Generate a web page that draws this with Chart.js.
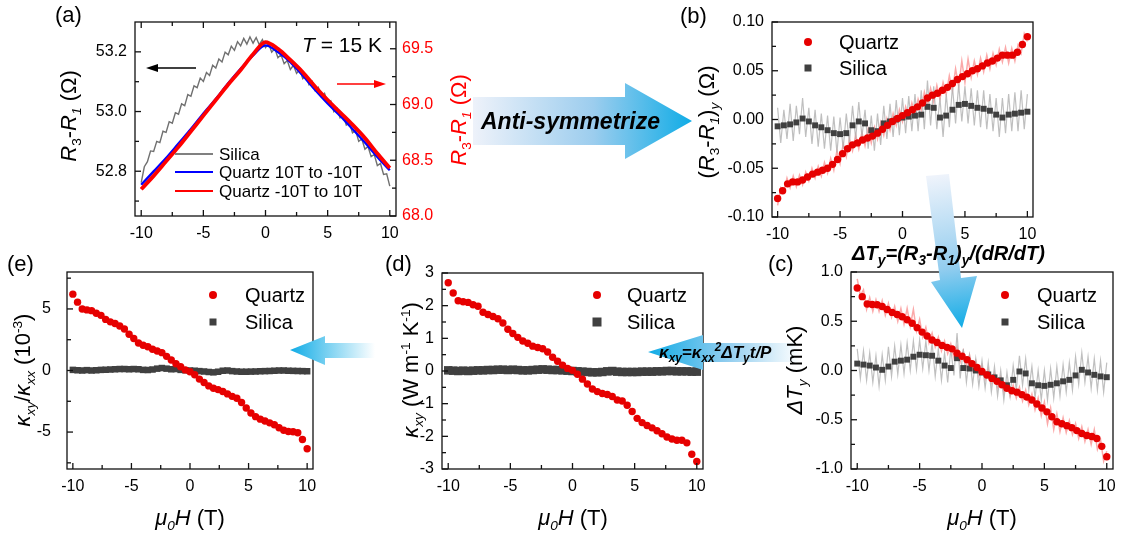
<!DOCTYPE html>
<html>
<head>
<meta charset="utf-8">
<script src="https://cdn.jsdelivr.net/npm/chart.js@4.4.1/dist/chart.umd.min.js"></script>
<style>
  body { margin: 0; background: #fff; }
  #fig { position: relative; width: 1122px; height: 536px; overflow: hidden;
         font-family: "Liberation Sans", Arial, sans-serif; color: #000; }
  #fig canvas { position: absolute; }
  .t { position: absolute; white-space: nowrap; line-height: 1; }
  .yt { transform: translate(-50%, -50%) rotate(-90deg); font-size: 22px; }
  .xt { transform: translate(-50%, -50%); font-size: 22px; }
  .lab { font-size: 22px; transform: translateY(-50%); }
  .lg { font-size: 20px; transform: translateY(-50%); }
  .note { font-weight: bold; font-style: italic; transform: translateY(-50%); }
  .note sub, .note sup { font-size: 0.7em; }
  sub, sup { font-size: 0.62em; line-height: 0; }
  .mk { position: absolute; transform: translate(-50%, -50%); }
  .dot { width: 8px; height: 8px; border-radius: 50%; background: #e60000; }
  .sq { width: 7px; height: 7px; background: #404040; }
  .ln { position: absolute; height: 0; transform: translateY(-50%); }
  svg { position: absolute; left: 0; top: 0; }
</style>
</head>
<body>
<div id="fig">
  <canvas id="pa"></canvas>
  <canvas id="pb"></canvas>
  <canvas id="pc"></canvas>
  <canvas id="pd"></canvas>
  <canvas id="pe"></canvas>

  <svg width="1122" height="536">
    <defs>
      <linearGradient id="g1" gradientUnits="userSpaceOnUse" x1="473" y1="0" x2="692" y2="0">
        <stop offset="0" stop-color="#eef2fa"/><stop offset="0.55" stop-color="#9ccdee"/><stop offset="1" stop-color="#10ace6"/>
      </linearGradient>
      <linearGradient id="g2" gradientUnits="userSpaceOnUse" x1="937" y1="176" x2="962" y2="328">
        <stop offset="0" stop-color="#eef3fb"/><stop offset="0.6" stop-color="#93cdef"/><stop offset="1" stop-color="#10ace6"/>
      </linearGradient>
      <linearGradient id="g3" gradientUnits="userSpaceOnUse" x1="648" y1="0" x2="800" y2="0">
        <stop offset="0" stop-color="#10ace6"/><stop offset="0.5" stop-color="#8ccbee"/><stop offset="1" stop-color="#ffffff"/>
      </linearGradient>
      <linearGradient id="g4" gradientUnits="userSpaceOnUse" x1="290" y1="0" x2="375" y2="0">
        <stop offset="0" stop-color="#10ace6"/><stop offset="1" stop-color="#ffffff"/>
      </linearGradient>
    </defs>
    <polygon points="473,97 625,97 625,83 692,121 625,159 625,145 473,145" fill="url(#g1)"/>
    <polygon points="926,176 949,174 961,278 977,276 962,328 931,282 940,280" fill="url(#g2)"/>
    <polygon points="648,352 703,335 703,343 800,343 800,362 703,362 703,370" fill="url(#g3)"/>
    <polygon points="290,350 325,336 325,343 375,343 375,358 325,358 325,365" fill="url(#g4)"/>
    <line x1="196" y1="68" x2="155" y2="68" stroke="#000" stroke-width="1.3"/>
    <polygon points="146,68 158,64 158,72" fill="#000"/>
    <line x1="337" y1="84" x2="376" y2="84" stroke="#f00" stroke-width="1.3"/>
    <polygon points="386,84 374,80 374,88" fill="#f00"/>
  </svg>

  <!-- panel labels -->
  <div class="t lab" style="left:55px;top:15px">(a)</div>
  <div class="t lab" style="left:680px;top:16px">(b)</div>
  <div class="t lab" style="left:768px;top:264px">(c)</div>
  <div class="t lab" style="left:385px;top:264px">(d)</div>
  <div class="t lab" style="left:7px;top:264px">(e)</div>

  <!-- axis titles -->
  <div class="t yt" style="left:69px;top:116px"><i>R</i><sub>3</sub>-<i>R</i><sub><i>1</i></sub> (Ω)</div>
  <div class="t yt" style="left:459px;top:120px;color:#f00"><i>R</i><sub>3</sub>-<i>R</i><sub><i>1</i></sub> (Ω)</div>
  <div class="t yt" style="left:707px;top:122px">(<i>R</i><sub>3</sub>-<i>R</i><sub><i>1</i></sub>)<sub><i>y</i></sub> (Ω)</div>
  <div class="t yt" style="left:795px;top:370px"><i>ΔT<sub>y</sub></i> (mK)</div>
  <div class="t yt" style="left:411px;top:370px"><i>κ<sub>xy</sub></i> (W m<sup>-1</sup> K<sup>-1</sup>)</div>
  <div class="t yt" style="left:23px;top:370px"><i>κ<sub>xy</sub></i>/<i>κ<sub>xx</sub></i> (10<sup>-3</sup>)</div>
  <div class="t xt" style="left:190px;top:518px"><i>μ<sub>0</sub>H</i> (T)</div>
  <div class="t xt" style="left:573px;top:518px"><i>μ<sub>0</sub>H</i> (T)</div>
  <div class="t xt" style="left:982px;top:518px"><i>μ<sub>0</sub>H</i> (T)</div>

  <div class="t" style="left:302px;top:34px;font-size:21px"><i>T</i> = 15 K</div>

  <!-- legend (a) -->
  <div class="ln" style="left:175px;top:154px;width:38px;border-top:2px solid #808080"></div>
  <div class="ln" style="left:175px;top:172px;width:38px;border-top:2px solid #0000ff"></div>
  <div class="ln" style="left:175px;top:191px;width:38px;border-top:2px solid #ff0000"></div>
  <div class="t lg" style="left:219px;top:154px;font-size:17px">Silica</div>
  <div class="t lg" style="left:219px;top:172px;font-size:17px">Quartz 10T to -10T</div>
  <div class="t lg" style="left:219px;top:191px;font-size:17px">Quartz -10T to 10T</div>

  <!-- legend (b) -->
  <div class="mk dot" style="left:808px;top:42px"></div>
  <div class="mk sq" style="left:808px;top:68px"></div>
  <div class="t lg" style="left:839px;top:42px">Quartz</div>
  <div class="t lg" style="left:839px;top:68px">Silica</div>
  <!-- legend (c) -->
  <div class="mk dot" style="left:1005px;top:295px"></div>
  <div class="mk sq" style="left:1005px;top:322px"></div>
  <div class="t lg" style="left:1037px;top:295px">Quartz</div>
  <div class="t lg" style="left:1037px;top:322px">Silica</div>
  <!-- legend (d) -->
  <div class="mk dot" style="left:597px;top:295px"></div>
  <div class="mk sq" style="left:597px;top:322px;width:9px;height:9px"></div>
  <div class="t lg" style="left:627px;top:295px">Quartz</div>
  <div class="t lg" style="left:627px;top:322px">Silica</div>
  <!-- legend (e) -->
  <div class="mk dot" style="left:213px;top:295px"></div>
  <div class="mk sq" style="left:213px;top:322px"></div>
  <div class="t lg" style="left:245px;top:295px">Quartz</div>
  <div class="t lg" style="left:245px;top:322px">Silica</div>

  <!-- arrow notes -->
  <div class="t note" style="left:481px;top:121px;font-size:23px">Anti-symmetrize</div>
  <div class="t note" style="left:852px;top:253px;font-size:20px">ΔT<sub>y</sub>=(R<sub>3</sub>-R<sub>1</sub>)<sub>y</sub>/(dR/dT)</div>
  <div class="t note" style="left:659px;top:352px;font-size:17px">κ<sub>xy</sub>=κ<sub>xx</sub><sup>2</sup>ΔT<sub>y</sub>t/P</div>
</div>

<script>
// field grids (T)
const H81 = [-10,-9.75,-9.5,-9.25,-9,-8.75,-8.5,-8.25,-8,-7.75,-7.5,-7.25,-7,-6.75,-6.5,-6.25,-6,-5.75,-5.5,-5.25,
  -5,-4.75,-4.5,-4.25,-4,-3.75,-3.5,-3.25,-3,-2.75,-2.5,-2.25,-2,-1.75,-1.5,-1.25,-1,-0.75,-0.5,-0.25,
  0,0.25,0.5,0.75,1,1.25,1.5,1.75,2,2.25,2.5,2.75,3,3.25,3.5,3.75,4,4.25,4.5,4.75,
  5,5.25,5.5,5.75,6,6.25,6.5,6.75,7,7.25,7.5,7.75,8,8.25,8.5,8.75,9,9.25,9.5,9.75,10];
const H51 = [-10,-9.6,-9.2,-8.8,-8.4,-8,-7.6,-7.2,-6.8,-6.4,-6,-5.6,-5.2,-4.8,-4.4,-4,-3.6,-3.2,-2.8,-2.4,
  -2,-1.6,-1.2,-0.8,-0.4,0,0.4,0.8,1.2,1.6,2,2.4,2.8,3.2,3.6,4,4.4,4.8,5.2,5.6,
  6,6.4,6.8,7.2,7.6,8,8.4,8.8,9.2,9.6,10];
const H41 = [-10,-9.5,-9,-8.5,-8,-7.5,-7,-6.5,-6,-5.5,-5,-4.5,-4,-3.5,-3,-2.5,-2,-1.5,-1,-0.5,
  0,0.5,1,1.5,2,2.5,3,3.5,4,4.5,5,5.5,6,6.5,7,7.5,8,8.5,9,9.5,10];
const H21 = [-10,-9,-8,-7,-6,-5,-4,-3,-2,-1,0,1,2,3,4,5,6,7,8,9,10];

// (a) raw R3-R1
const aSilica = [52.762,52.815,52.832,52.868,52.866,52.900,52.896,52.934,52.930,52.966,
  52.961,52.996,52.991,53.026,53.020,53.057,53.051,53.086,53.080,53.112,
  53.101,53.131,53.121,53.155,53.146,53.176,53.166,53.199,53.190,53.219,
  53.205,53.234,53.220,53.245,53.226,53.250,53.229,53.248,53.224,53.241,
  53.214,53.228,53.199,53.211,53.180,53.190,53.160,53.171,53.141,53.155,
  53.128,53.141,53.110,53.121,53.090,53.101,53.070,53.081,53.050,53.061,
  53.030,53.036,53.000,53.011,52.979,52.988,52.955,52.963,52.929,52.937,
  52.900,52.908,52.874,52.883,52.849,52.856,52.819,52.826,52.789,52.791,
  52.750];
const aQuartzDown = [68.28,68.40,68.52,68.65,68.78,68.92,69.05,69.19,69.32,69.44,69.53,69.47,69.38,69.26,69.13,69.01,68.90,68.78,68.66,68.53,68.41];
const aQuartzUp = [68.24,68.36,68.49,68.62,68.76,68.90,69.04,69.18,69.31,69.45,69.56,69.50,69.40,69.29,69.16,69.04,68.93,68.82,68.70,68.56,68.43];

// (b) (R3-R1)y
const bQuartz = [-0.081,-0.073,-0.066,-0.064,-0.064,-0.062,-0.059,-0.056,-0.054,-0.052,
  -0.050,-0.046,-0.041,-0.035,-0.030,-0.026,-0.024,-0.021,-0.019,-0.017,
  -0.014,-0.010,-0.006,-0.002,0.001,0.004,0.007,0.010,0.013,0.017,
  0.022,0.025,0.027,0.030,0.033,0.037,0.041,0.044,0.047,0.050,
  0.052,0.055,0.058,0.060,0.063,0.066,0.066,0.066,0.069,0.077,
  0.085];
const bQuartzRaw = [-0.088,-0.070,-0.074,-0.060,-0.070,-0.058,-0.069,-0.057,-0.067,-0.054,
  -0.063,-0.050,-0.060,-0.048,-0.058,-0.044,-0.055,-0.040,-0.052,-0.032,
  -0.045,-0.025,-0.038,-0.020,-0.032,-0.016,-0.030,-0.013,-0.027,-0.010,
  -0.024,-0.008,-0.020,-0.003,-0.016,0.001,-0.011,0.006,-0.006,0.010,
  -0.002,0.013,0.002,0.017,0.005,0.021,0.010,0.028,0.015,0.032,
  0.018,0.035,0.021,0.038,0.026,0.045,0.030,0.052,0.034,0.060,
  0.038,0.062,0.043,0.060,0.046,0.063,0.049,0.066,0.052,0.068,
  0.056,0.072,0.059,0.074,0.058,0.073,0.060,0.076,0.068,0.088,
  0.080];
const bSilica = [-0.007,-0.006,-0.005,-0.003,0.001,-0.002,-0.006,-0.008,-0.011,-0.014,
  -0.015,-0.014,-0.006,-0.002,-0.004,-0.011,-0.012,-0.004,-0.002,0.000,
  0.002,0.003,0.004,0.005,0.013,0.012,0.002,0.004,0.010,0.015,
  0.016,0.014,0.012,0.011,0.009,0.005,0.002,0.005,0.006,0.007,
  0.008];
const bSilicaRaw = [0.012,-0.024,0.010,-0.020,0.016,-0.022,0.014,-0.015,0.022,-0.018,
  0.012,-0.025,0.010,-0.028,0.006,-0.030,0.004,-0.032,0.003,-0.034,
  0.002,-0.030,0.006,-0.024,0.014,-0.020,0.018,-0.018,0.010,-0.030,
  0.004,-0.032,0.006,-0.026,0.014,-0.020,0.016,-0.018,0.020,-0.016,
  0.022,-0.014,0.024,-0.012,0.026,-0.012,0.030,-0.010,0.040,-0.006,
  0.034,-0.010,0.022,-0.018,0.026,-0.008,0.034,-0.004,0.036,-0.002,
  0.034,-0.004,0.032,-0.006,0.030,-0.008,0.030,-0.010,0.026,-0.012,
  0.022,-0.018,0.022,-0.014,0.026,-0.012,0.028,-0.012,0.030,-0.010,
  0.026];

// (c) delta Ty (mK)
const cQuartz = [0.837,0.750,0.675,0.670,0.667,0.650,0.620,0.590,0.568,0.545,
  0.515,0.480,0.435,0.390,0.350,0.310,0.285,0.255,0.235,0.220,
  0.176,0.145,0.110,0.070,0.030,-0.010,-0.045,-0.080,-0.110,-0.145,
  -0.180,-0.205,-0.220,-0.245,-0.270,-0.300,-0.340,-0.380,-0.420,-0.470,
  -0.520,-0.540,-0.560,-0.580,-0.610,-0.640,-0.660,-0.670,-0.690,-0.770,
  -0.875];
const cQuartzRaw = [0.93,0.76,0.82,0.62,0.74,0.60,0.72,0.60,0.71,0.56,
  0.68,0.54,0.65,0.50,0.63,0.47,0.63,0.45,0.62,0.40,
  0.52,0.34,0.44,0.28,0.38,0.24,0.34,0.20,0.30,0.17,
  0.27,0.13,0.24,0.09,0.20,0.05,0.16,0.01,0.10,-0.05,
  0.05,-0.09,0.01,-0.13,-0.03,-0.17,-0.07,-0.22,-0.12,-0.26,
  -0.15,-0.28,-0.17,-0.31,-0.20,-0.35,-0.24,-0.40,-0.28,-0.46,
  -0.32,-0.54,-0.38,-0.60,-0.44,-0.62,-0.48,-0.63,-0.51,-0.65,
  -0.54,-0.69,-0.57,-0.72,-0.60,-0.75,-0.60,-0.80,-0.70,-0.92,
  -0.82];
const cSilica = [0.070,0.060,0.050,0.030,0.007,0.040,0.090,0.100,0.110,0.140,
  0.160,0.155,0.150,0.100,0.050,0.025,0.125,0.025,0.020,0.000,
  -0.020,-0.040,-0.070,-0.100,-0.150,-0.095,-0.010,-0.030,-0.130,-0.150,
  -0.156,-0.145,-0.130,-0.110,-0.095,-0.050,0.007,-0.020,-0.044,-0.060,
  -0.068];
const cSilicaRaw = [0.22,-0.08,0.20,-0.10,0.18,-0.12,0.15,-0.16,0.16,-0.10,
  0.24,-0.06,0.25,-0.04,0.26,-0.03,0.28,0.00,0.30,0.01,
  0.31,0.02,0.30,0.00,0.28,-0.06,0.22,-0.10,0.18,-0.12,
  0.22,-0.05,0.38,-0.08,0.22,-0.12,0.15,-0.14,0.12,-0.16,
  0.10,-0.18,0.08,-0.22,0.04,-0.26,0.00,-0.30,-0.02,-0.26,
  0.05,-0.20,0.15,-0.15,0.12,-0.20,0.04,-0.28,0.00,-0.30,
  0.00,-0.30,0.02,-0.28,0.04,-0.26,0.06,-0.22,0.08,-0.20,
  0.14,-0.14,0.18,-0.12,0.14,-0.18,0.12,-0.20,0.10,-0.22,
  0.08];

// (d) kappa_xy
const dQuartz = [2.70,2.39,2.15,2.12,2.10,2.03,1.98,1.80,1.73,1.67,
  1.60,1.47,1.28,1.15,1.03,0.92,0.85,0.76,0.72,0.68,
  0.58,0.42,0.30,0.18,0.08,0.02,-0.10,-0.25,-0.40,-0.55,
  -0.63,-0.69,-0.72,-0.78,-0.89,-0.92,-1.05,-1.24,-1.45,-1.58,
  -1.67,-1.74,-1.83,-1.92,-2.02,-2.08,-2.12,-2.12,-2.20,-2.55,
  -2.77];
const dSilica = [0.02,0.01,0.00,0.01,0.00,0.01,0.02,0.02,0.03,0.03,
  0.04,0.04,0.03,0.04,0.03,0.02,0.02,0.03,0.04,0.05,
  0.04,0.03,0.03,0.02,0.01,0.00,-0.01,-0.02,-0.03,-0.04,
  -0.04,-0.03,-0.01,0.00,-0.02,-0.03,-0.03,-0.03,-0.03,-0.02,
  -0.02,-0.02,-0.01,-0.01,0.00,0.00,-0.01,-0.01,-0.01,-0.02,
  -0.02];

// (e) kappa_xy / kappa_xx (1e-3)
const eQuartz = [6.20,5.55,5.00,4.92,4.86,4.65,4.48,4.15,3.95,3.82,
  3.62,3.37,2.95,2.60,2.23,2.05,1.93,1.72,1.58,1.45,
  1.15,0.85,0.55,0.30,0.05,-0.10,-0.35,-0.70,-0.98,-1.25,
  -1.44,-1.55,-1.70,-1.90,-2.10,-2.25,-2.60,-3.05,-3.45,-3.75,
  -3.95,-4.10,-4.25,-4.40,-4.65,-4.85,-4.95,-4.97,-5.05,-5.60,
  -6.35];
const eSilica = [0.05,0.02,0.00,0.03,0.00,0.02,0.05,0.06,0.08,0.10,
  0.12,0.12,0.10,0.12,0.10,0.05,0.04,0.08,0.15,0.20,
  0.15,0.10,0.12,0.05,0.02,0.00,-0.02,-0.05,-0.08,-0.12,
  -0.15,-0.10,-0.02,0.00,-0.05,-0.08,-0.10,-0.10,-0.09,-0.08,
  -0.06,-0.05,-0.04,-0.02,0.00,0.00,-0.02,-0.03,-0.04,-0.05,
  -0.06];

// tick values
const fieldTicks = [-10, -5, 0, 5, 10];
const fieldMinor = [-7.5, -2.5, 2.5, 7.5];
const aTicks = [52.8, 53.0, 53.2], aMinor = [52.7, 52.9, 53.1];
const a2Ticks = [68.0, 68.5, 69.0, 69.5], a2Minor = [68.25, 68.75, 69.25];
const bTicks = [-0.10, -0.05, 0.00, 0.05, 0.10], bMinor = [-0.075, -0.025, 0.025, 0.075];
const cTicks = [-1.0, -0.5, 0.0, 0.5, 1.0], cMinor = [-0.75, -0.25, 0.25, 0.75];
const dTicks = [-3, -2, -1, 0, 1, 2, 3], dMinor = [-2.5, -1.5, -0.5, 0.5, 1.5, 2.5];
const eTicks = [-5, 0, 5], eMinor = [-7.5, -2.5, 2.5, 7.5];

const FONT = '"Liberation Sans", Arial, sans-serif';
const RED = '#e60000', PINK = 'rgba(250,140,140,0.75)', DARK = '#404040', LIGHT = 'rgba(175,175,175,0.8)';

// frame with inward ticks, drawn through the chart's scales
const framePlugin = {
  id: 'frame',
  afterDatasetsDraw(chart, args, o) {
    const {ctx, chartArea: a} = chart;
    const x = chart.scales.x, y = chart.scales.y, y2 = chart.scales.y2;
    ctx.save();
    ctx.strokeStyle = '#111';
    ctx.lineWidth = 1.3;
    ctx.strokeRect(a.left, a.top, a.right - a.left, a.bottom - a.top);
    const mark = (scale, vals, len, side) => {
      (vals || []).forEach(v => {
        const p = scale.getPixelForValue(v);
        ctx.beginPath();
        if (side === 'bottom') { ctx.moveTo(p, a.bottom); ctx.lineTo(p, a.bottom - len); }
        if (side === 'top') { ctx.moveTo(p, a.top); ctx.lineTo(p, a.top + len); }
        if (side === 'left') { ctx.moveTo(a.left, p); ctx.lineTo(a.left + len, p); }
        if (side === 'right') { ctx.moveTo(a.right, p); ctx.lineTo(a.right - len, p); }
        ctx.stroke();
      });
    };
    mark(x, o.xMajor, 6, 'bottom'); mark(x, o.xMinor, 4, 'bottom');
    if (o.top) { mark(x, o.xMajor, 6, 'top'); mark(x, o.xMinor, 4, 'top'); }
    mark(y, o.yMajor, 6, 'left'); mark(y, o.yMinor, 4, 'left');
    if (y2) { mark(y2, o.y2Major, 6, 'right'); mark(y2, o.y2Minor, 4, 'right'); }
    ctx.restore();
  }
};
Chart.register(framePlugin);

const pts = (xs, ys) => xs.map((x, i) => ({x: x, y: ys[i]}));
const dots = (xs, ys, color, r, style) => ({
  data: pts(xs, ys), pointStyle: style || 'circle', pointRadius: r,
  pointBackgroundColor: color, pointBorderWidth: 0, showLine: false
});
const trace = (xs, ys, color, w, axis, smooth) => ({
  data: pts(xs, ys), showLine: true, borderColor: color, borderWidth: w,
  pointRadius: 0, yAxisID: axis || 'y',
  cubicInterpolationMode: smooth ? 'monotone' : 'default', tension: 0
});

function axis(min, max, major, digits, fit, extra) {
  return Object.assign({
    type: 'linear', min: min, max: max,
    grid: {display: false, drawTicks: false},
    border: {display: false},
    afterBuildTicks: s => { s.ticks = major.map(v => ({value: v})); },
    afterFit: fit,
    ticks: {font: {family: FONT, size: 16}, color: '#000', padding: 8,
            autoSkip: false, maxRotation: 0, callback: v => v.toFixed(digits)}
  }, extra || {});
}

// box = plot area [left, top, right, bottom] on the page; pad = [axisLeft, top, right, axisBottom]
function makeChart(id, box, pad, datasets, yScales, frame, tickPadY) {
  const [L, T, R, B] = box, [wl, wt, wr, wb] = pad;
  const cv = document.getElementById(id);
  cv.width = R - L + wl + wr;
  cv.height = B - T + wt + wb;
  cv.style.left = (L - wl) + 'px';
  cv.style.top = (T - wt) + 'px';
  const scales = {
    x: axis(-10.5, 10.5, fieldTicks, 0, s => { s.height = wb; s.paddingLeft = 0; s.paddingRight = 0; })
  };
  scales.x.min = frame.xMin || -10.5;
  scales.x.max = frame.xMax || 10.5;
  const yfit = s => { s.width = wl; s.paddingTop = 0; s.paddingBottom = 0; };
  scales.y = axis(yScales.y[0], yScales.y[1], yScales.y[2], yScales.y[3], yfit, {position: 'left'});
  if (tickPadY) scales.y.ticks.padding = tickPadY;
  let padRight = wr;
  if (yScales.y2) {
    const y2fit = s => { s.width = wr; s.paddingTop = 0; s.paddingBottom = 0; };
    scales.y2 = axis(yScales.y2[0], yScales.y2[1], yScales.y2[2], yScales.y2[3], y2fit, {position: 'right'});
    scales.y2.ticks.color = '#f00';
    scales.y2.ticks.padding = 6;
    padRight = 0;
  }
  return new Chart(cv, {
    type: 'scatter',
    data: {datasets: datasets},
    options: {
      responsive: false, animation: false, events: [],
      layout: {padding: {left: 0, top: wt, right: padRight, bottom: 0}},
      scales: scales,
      plugins: {legend: {display: false}, tooltip: {enabled: false}, frame: frame}
    }
  });
}

// (a)
makeChart('pa', [135, 22, 396, 216], [55, 12, 50, 28], [
  trace(H21, aQuartzUp, '#ff0000', 3.8, 'y2', true),
  trace(H21, aQuartzDown, '#0000ff', 2.4, 'y2', true),
  trace(H81, aSilica, '#707070', 1.4, 'y')
], {y: [52.65, 53.3, aTicks, 1], y2: [68.0, 69.74, a2Ticks, 1]},
{xMajor: fieldTicks, xMinor: fieldMinor, top: true, yMajor: aTicks, yMinor: aMinor, y2Major: a2Ticks, y2Minor: a2Minor});

// (b)
makeChart('pb', [772, 22, 1033, 217], [45, 12, 20, 28], [
  dots(H51, bQuartz, RED, 3.7),
  dots(H41, bSilica, DARK, 4.2, 'rect'),
  trace(H81, bSilicaRaw, LIGHT, 1.2),
  trace(H81, bQuartzRaw, PINK, 1.5)
], {y: [-0.1, 0.1, bTicks, 2]},
{xMin: -10.45, xMax: 10.45, xMajor: fieldTicks, xMinor: fieldMinor, yMajor: bTicks, yMinor: bMinor});

// (c)
makeChart('pc', [851, 272, 1113, 469], [45, 10, 9, 28], [
  dots(H51, cQuartz, RED, 3.7),
  dots(H41, cSilica, DARK, 4.2, 'rect'),
  trace(H81, cSilicaRaw, LIGHT, 1.2),
  trace(H81, cQuartzRaw, PINK, 1.5)
], {y: [-1, 1, cTicks, 1]},
{xMajor: fieldTicks, xMinor: fieldMinor, yMajor: cTicks, yMinor: cMinor});

// (d)
makeChart('pd', [442, 273, 703, 469], [45, 10, 12, 28], [
  dots(H51, dQuartz, RED, 3.7),
  dots(H51, dSilica, DARK, 6, 'rect')
], {y: [-3, 3, dTicks, 0]},
{xMajor: fieldTicks, xMinor: fieldMinor, yMajor: dTicks, yMinor: dMinor});

// (e)
makeChart('pe', [67, 272, 313, 469], [50, 10, 12, 28], [
  dots(H51, eQuartz, RED, 3.7),
  dots(H51, eSilica, DARK, 4.6, 'rect')
], {y: [-8, 8, eTicks, 0]},
{xMajor: fieldTicks, xMinor: fieldMinor, yMajor: eTicks, yMinor: eMinor}, 16);
</script>
</body>
</html>
